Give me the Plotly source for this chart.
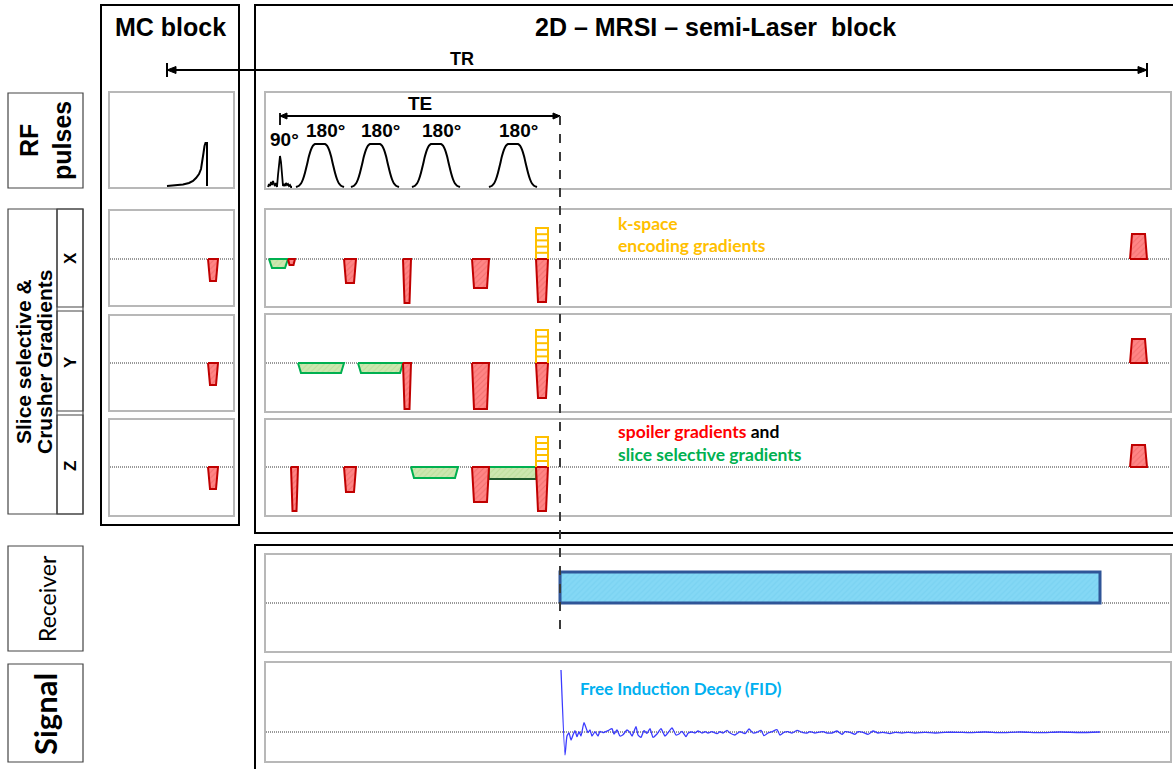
import plotly.graph_objects as go

W, H = 1173, 769

# ---------------- sequence timing (arbitrary time units) ----------------
T_MAIN = 904          # length of the semi-LASER time axis
T_MC = 123            # length of the motion-correction time axis

EXC_T = 14                        # 90 deg excitation
REFOC_T = [54, 109, 170, 247]     # 180 deg adiabatic refocusing pulses
TE_END = 294                      # echo time / start of acquisition
TR_START_MC = 57                  # TR starts with the MC navigator pulse
TR_END = 881                      # TR ends after the last spoiler

# refocusing pulse envelope (offset from centre, relative amplitude)
REFOC_OFF = [-24, -21, -19, -17, -15, -13, -11, -9, -7, -5, -3, 0,
             3, 5, 7, 9, 11, 13, 15, 17, 19, 21, 24]
REFOC_ENV = [0, 0.03, 0.08, 0.18, 0.33, 0.52, 0.72, 0.87, 0.96, 1, 1, 1,
             1, 1, 0.96, 0.87, 0.72, 0.52, 0.33, 0.18, 0.08, 0.03, 0]
REFOC_HEIGHT = 43

# excitation pulse envelope (sinc-like)
EXC_OFF = list(range(-12, 13))
EXC_AMP = [0, 3, 1, 5, 2, 6, 3, 1, 4, 0, 12, 25, 31, 25, 12, 1, 3, 1, 4, 2, 3, 1, 2, 0, 0]

# MC navigator pulse
MC_RF_T = [57, 65, 73, 79, 83, 86, 89, 91, 92.5, 93.5, 94.5, 95.5, 97, 97]
MC_RF_A = [0, 0.5, 1.5, 3, 5, 8, 12, 17, 25, 33, 40, 43, 43, 0]

# gradients per axis: start, end, amplitude, type
X_START = [3, 22, 78, 137, 206, 270, 864]
X_END = [22, 29, 90, 145, 223, 282, 881]
X_AMP = [-9, -6, -24, -44, -29, -43, 25]
X_KIND = ["slice", "spoil", "spoil", "spoil", "spoil", "spoil", "spoil"]

Y_START = [32, 92, 137, 206, 270, 864]
Y_END = [78, 137, 145, 223, 282, 881]
Y_AMP = [-10, -10, -46, -46, -35, 24]
Y_KIND = ["slice", "slice", "spoil", "spoil", "spoil", "spoil"]

Z_START = [25, 78, 145, 206, 223, 270, 864]
Z_END = [32, 90, 192, 223, 270, 282, 881]
Z_AMP = [-44, -25, -11, -35, -12, -44, 22]
Z_KIND = ["spoil", "spoil", "slice", "spoil", "plateau", "spoil", "spoil"]

# k-space encoding (phase-encoding table)
KSP_START, KSP_END = 270, 282
KSP_MAX = [31, 33, 30]      # x, y, z
KSP_STEPS = 5

# MC block gradients
MC_G_START, MC_G_END = 98, 108
MC_G_AMP = [-22, -22, -22]  # x, y, z

# ADC window
ADC_START, ADC_END, ADC_LEVEL = 294, 834, 31

# free induction decay
FID_T = [295, 299, 301, 303, 305, 307, 309, 311, 313, 315,
         318, 322, 324, 326, 329, 332, 334, 337, 342, 346,
         348, 351, 354, 357, 361, 364, 366, 370, 372, 375,
         378, 381, 384, 387, 391, 395, 399, 402, 406, 410,
         413, 416, 420, 422, 426, 429, 432, 436, 439, 442,
         446, 451, 454, 457, 461, 464, 469, 474, 479, 483,
         487, 491, 495, 498, 502, 506, 511, 514, 518, 522,
         526, 531, 536, 541, 544, 549, 552, 557, 561, 566,
         571, 576, 579, 584, 589, 592, 597, 602, 607, 612,
         617, 624, 629, 636, 642, 649, 659, 669, 679, 692,
         704, 719, 734, 754, 774, 794, 814, 834]
FID_A = [62, -23, -4, -1, -8, -3, 1.3, -4.7, 0.3, -4,
         9.3, -0.7, 2, -4, 0.3, -4, 0.7, -0.7, 1.3, 3.3,
         -2, 2, -4, -2.7, 2, -0.7, -4, 5.3, -3, -5.3,
         1.3, -1.3, 3.3, -5.3, -2, 3.3, -4, -0.7, 4, -3,
         -2, 0.7, -4.7, -1.3, 0, -1, 1, -1, 0.3, -1,
         0.3, -1.7, 0.3, -1, 1.7, -1, -3, 0.3, -1.7, 3,
         -1, -0.3, 1.7, -3.7, -1, 0.3, 2.3, -3, -0.3, 0.3,
         -1, 1.7, -0.3, -1, 0.3, -1, -0.3, 0.3, -1, -1,
         1, -2.3, 0.3, -0.3, -2.3, 0.3, -0.3, -2.3, 1, -1,
         -0.3, -1.7, -0.3, -1, -0.3, -1, -0.3, -1, -0.3, -0.3,
         -0.6, 0, -0.6, 0, -0.6, 0, -0.5, 0]

# ---------------- page geometry (pixels) ----------------
MAIN_X = (266, 1170)
MC_X = (110, 233)
ROWS = {            # top, bottom, baseline
    "rf": (93, 188, 187),
    "gx": (210, 306, 259),
    "gy": (315, 411, 363),
    "gz": (420, 515, 467),
    "adc": (555, 651, 603),
    "sig": (663, 761, 732),
}
MC_ROWS = {
    "rf": (93, 187, 186),
    "gx": (211, 305, 259),
    "gy": (316, 410, 363),
    "gz": (420, 515, 467),
}

ARIAL = "Liberation Sans, Arial, sans-serif"
CALIBRI = "Lato, Open Sans, sans-serif"
PANEL_LINE = "#b8b8b8"

RED = dict(line="#c00000", bg="#ff8585", fg="#e25a5a")
GREEN = dict(line="#00b050", bg="#cde6b0", fg="#a9d585")
YELLOW = "#ffc000"

fig = go.Figure()
layout = {}
panels = {}
_count = [0]


def add_panel(name, xpix, row, trange):
    _count[0] += 1
    n = _count[0]
    sfx = "" if n == 1 else str(n)
    top, bot, base = row
    ax_style = dict(showline=True, mirror=True, linecolor=PANEL_LINE, linewidth=1.5,
                    showgrid=False, zeroline=False, showticklabels=False, ticks="",
                    fixedrange=True)
    layout["xaxis" + sfx] = dict(domain=[xpix[0] / W, xpix[1] / W], range=[0, trange],
                                 anchor="y" + sfx, **ax_style)
    layout["yaxis" + sfx] = dict(domain=[1 - bot / H, 1 - top / H],
                                 range=[base - bot, base - top],
                                 anchor="x" + sfx, **ax_style)
    panels[name] = ("x" + sfx, "y" + sfx, trange)


for key in ["rf", "gx", "gy", "gz"]:
    add_panel("mc_" + key, MC_X, MC_ROWS[key], T_MC)
for key in ["rf", "gx", "gy", "gz", "adc", "sig"]:
    add_panel(key, MAIN_X, ROWS[key], T_MAIN)


def trace(panel, **kw):
    xr, yr, _ = panels[panel]
    kw.setdefault("showlegend", False)
    kw.setdefault("hoverinfo", "skip")
    fig.add_trace(go.Scatter(xaxis=xr, yaxis=yr, **kw))


def baseline(panel):
    _, _, tr = panels[panel]
    trace(panel, x=[0, tr], y=[0, 0], mode="lines",
          line=dict(color="#333333", width=1, dash="1px,1px"))


RAMP = {"spoil": 2, "slice": 3, "plateau": 0}


def gradient(panel, t0, t1, amp, kind):
    r = RAMP.get(kind, 2)
    if abs(t1 - t0) < 10 and kind == "spoil":
        r = 1.5
    xs = [t0, t0 + r, t1 - r, t1, t0]
    ys = [0, amp, amp, 0, 0]
    sty = RED if kind == "spoil" else GREEN
    trace(panel, x=xs, y=ys, mode="lines", fill="toself",
          fillcolor=sty["bg"],
          fillpattern=dict(shape="/", bgcolor=sty["bg"], fgcolor=sty["fg"],
                           size=4, solidity=0.25),
          line=dict(color=sty["line"], width=2))
    if kind == "plateau":
        trace(panel, x=[t0, t1], y=[amp, amp], mode="lines",
              line=dict(color="#1f5a2e", width=2))


def kspace(panel, amax):
    xs, ys = [], []
    xs += [KSP_START, KSP_START, KSP_END, KSP_END, None]
    ys += [0, amax, amax, 0, None]
    for k in range(1, KSP_STEPS):
        lvl = amax * k / KSP_STEPS
        xs += [KSP_START, KSP_END, None]
        ys += [lvl, lvl, None]
    trace(panel, x=xs, y=ys, mode="lines", line=dict(color=YELLOW, width=2))


# ---- baselines ----
for p in ["mc_gx", "mc_gy", "mc_gz", "gx", "gy", "gz", "adc", "sig"]:
    baseline(p)

# ---- RF ----
trace("mc_rf", x=MC_RF_T, y=MC_RF_A, mode="lines", line=dict(color="black", width=2))
trace("rf", x=[EXC_T + o for o in EXC_OFF], y=EXC_AMP, mode="lines",
      line=dict(color="black", width=1.8))
for c in REFOC_T:
    trace("rf", x=[c + o for o in REFOC_OFF], y=[REFOC_HEIGHT * e for e in REFOC_ENV],
          mode="lines", line=dict(color="black", width=2, shape="spline", smoothing=0.6))

# ---- gradients (slice-selective first, spoilers on top) ----
for panel, S, E, A, K in [("gx", X_START, X_END, X_AMP, X_KIND),
                          ("gy", Y_START, Y_END, Y_AMP, Y_KIND),
                          ("gz", Z_START, Z_END, Z_AMP, Z_KIND)]:
    order = sorted(range(len(S)), key=lambda i: 0 if K[i] != "spoil" else 1)
    for i in order:
        gradient(panel, S[i], E[i], A[i], K[i])

for panel, amax in zip(["gx", "gy", "gz"], KSP_MAX):
    kspace(panel, amax)

for panel, a in zip(["mc_gx", "mc_gy", "mc_gz"], MC_G_AMP):
    gradient(panel, MC_G_START, MC_G_END, a, "spoil")

# ---- receiver ----
trace("adc", x=[ADC_START, ADC_START, ADC_END, ADC_END, ADC_START],
      y=[0, ADC_LEVEL, ADC_LEVEL, 0, 0], mode="lines", fill="toself",
      fillcolor="#84d8f5",
      fillpattern=dict(shape="/", bgcolor="#84d8f5", fgcolor="#6fcbee", size=4, solidity=0.3),
      line=dict(color="#2f5597", width=3))

# ---- FID ----
trace("sig", x=FID_T, y=FID_A, mode="lines",
      line=dict(color="#3a3aff", width=1.3, shape="spline", smoothing=0.5))

# ---------------- decorations ----------------
shapes = []
ann = []


def X(px):
    return px / W


def Y(py):
    return 1 - py / H


def main_px(t):
    return MAIN_X[0] + t * (MAIN_X[1] - MAIN_X[0]) / T_MAIN


def mc_px(t):
    return MC_X[0] + t * (MC_X[1] - MC_X[0]) / T_MC


def rect(x0, y0, x1, y1, color, width):
    shapes.append(dict(type="rect", xref="paper", yref="paper", x0=X(x0), x1=X(x1),
                       y0=Y(y1), y1=Y(y0), line=dict(color=color, width=width),
                       fillcolor="rgba(0,0,0,0)", layer="below"))


def seg(x0, y0, x1, y1, color="black", width=2, dash=None, layer="above"):
    ln = dict(color=color, width=width)
    if dash:
        ln["dash"] = dash
    shapes.append(dict(type="line", xref="paper", yref="paper", x0=X(x0), x1=X(x1),
                       y0=Y(y0), y1=Y(y1), line=ln, layer=layer))


def head(xtip, y, direction, size=9, half=3.5):
    xb = xtip - direction * size
    path = f"M {X(xtip)},{Y(y)} L {X(xb)},{Y(y - half)} L {X(xb)},{Y(y + half)} Z"
    shapes.append(dict(type="path", xref="paper", yref="paper", path=path,
                       fillcolor="black", line=dict(color="black", width=1)))


def text(px, py, s, size, family=ARIAL, weight="bold", color="black", angle=0,
         xanchor="center"):
    ann.append(dict(x=X(px), y=Y(py), xref="paper", yref="paper", text=s,
                    showarrow=False, textangle=angle, xanchor=xanchor, yanchor="middle",
                    font=dict(family=family, size=size, color=color, weight=weight)))


# block frames
rect(101, 5, 239, 525, "black", 2)
rect(255, 5, 1185, 533, "black", 2)
rect(255, 545, 1185, 790, "black", 2)
text(170, 27, "MC block", 25)
text(715, 27, "2D – MRSI – semi-Laser\u00a0 block", 25)

# row label boxes
LBL = "#444444"
rect(8, 93, 83, 188, LBL, 1.2)
rect(8, 209, 83, 514, LBL, 1.2)
seg(57, 209, 57, 514, LBL, 1.2, layer="below")
rect(57, 209, 83, 307, LBL, 1.2)
rect(57, 311, 83, 411, LBL, 1.2)
rect(57, 415, 83, 514, LBL, 1.2)
rect(8, 546, 83, 651, LBL, 1.2)
rect(8, 664, 83, 762, LBL, 1.2)

text(45, 141, "RF<br>pulses", 25, angle=-90)
text(23, 362, "Slice selective &", 21, angle=-90)
text(44, 362, "Crusher Gradients", 21, angle=-90)
text(70, 258, "X", 17, angle=-90)
text(70, 362, "Y", 17, angle=-90)
text(70, 466, "Z", 17, angle=-90)
text(47, 599, "Receiver", 23, family=CALIBRI, weight="normal", angle=-90)
text(45, 714, "Signal", 31, family=CALIBRI, angle=-90)

# TR arrow
tr0, tr1, ytr = mc_px(TR_START_MC), main_px(TR_END), 70
seg(tr0, ytr, tr1, ytr, width=2)
seg(tr0, ytr - 7, tr0, ytr + 7, width=2)
seg(tr1, ytr - 7, tr1, ytr + 7, width=2)
head(tr0, ytr, -1)
head(tr1, ytr, 1)
text(462, 59, "TR", 18)

# TE arrow
te0, te1, yte = main_px(EXC_T), main_px(TE_END), 116
seg(te0, yte, te1, yte, width=1.8)
seg(te0, yte - 3, te0, yte + 9, width=1.8)
head(te0, yte, -1, size=7, half=3)
head(te1, yte, 1, size=7, half=3)
text((te0 + te1) / 2, 103, "TE", 19)

# echo-time marker through the lower panels
seg(te1, yte, te1, 637, color="#3a3a3a", width=2, dash="dash")

# pulse labels
xr, yr, _ = panels["rf"]
ann.append(dict(x=EXC_T, y=48, xref=xr, yref=yr, text="90°", showarrow=False,
                xshift=4, font=dict(family=ARIAL, size=19, color="black", weight="bold")))
for c in REFOC_T:
    ann.append(dict(x=c, y=57, xref=xr, yref=yr, text="180°", showarrow=False,
                    xshift=5, font=dict(family=ARIAL, size=19, color="black", weight="bold")))


def panel_text(panel, t, a, s, color, size=17.5):
    xr_, yr_, _ = panels[panel]
    ann.append(dict(x=t, y=a, xref=xr_, yref=yr_, text=s, showarrow=False,
                    xanchor="left", yanchor="middle",
                    font=dict(family=CALIBRI, size=size, color=color, weight="bold")))


panel_text("gx", 350, 36, "k-space", YELLOW)
panel_text("gx", 350, 14, "encoding gradients", YELLOW)
panel_text("gz", 350, 36, '<span style="color:#ff0000">spoiler gradients</span> and', "black")
panel_text("gz", 350, 13, "slice selective gradients", "#00b050")
panel_text("sig", 312, 44, "Free Induction Decay (FID)", "#00b0f0", size=17)

fig.update_layout(
    width=W, height=H, margin=dict(l=0, r=0, t=0, b=0),
    paper_bgcolor="white", plot_bgcolor="white",
    showlegend=False, shapes=shapes, annotations=ann, **layout,
)

fig.write_html("out.html")
